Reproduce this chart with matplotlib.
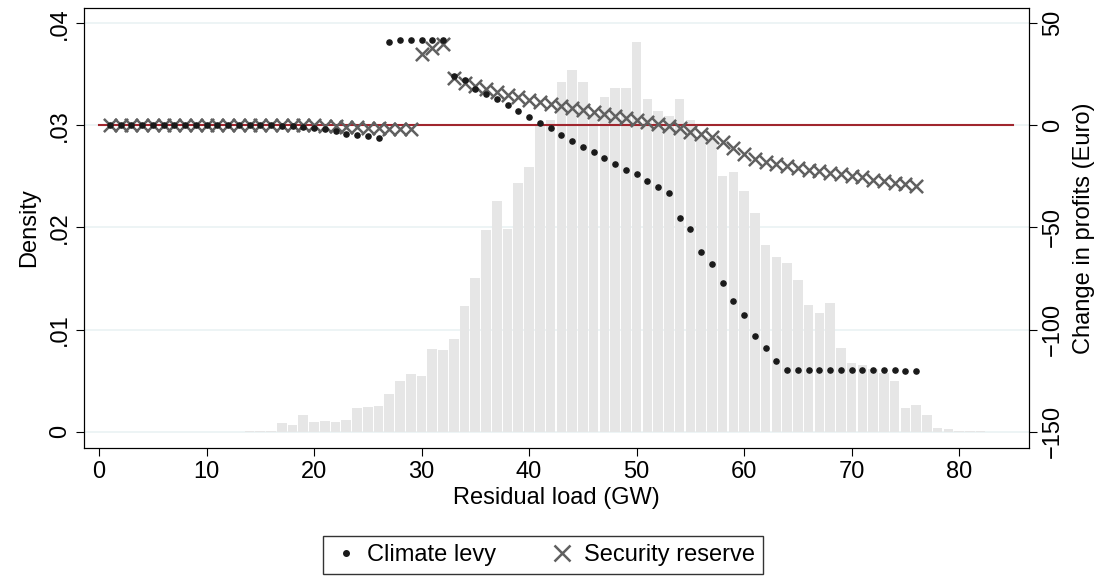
import numpy as np
import matplotlib.pyplot as plt
from matplotlib.lines import Line2D

plt.rcParams['font.family'] = ['Liberation Sans', 'DejaVu Sans']

# histogram of residual load (bin centres in GW, density)
bin_centres = list(range(14, 83))
density = [0.0001, 0.0001, 0.0001,
           0.0008, 0.0007, 0.0016, 0.0009, 0.0010, 0.0009, 0.0011, 0.0023, 0.0024, 0.0025,
           0.0037, 0.0050, 0.0056, 0.0055, 0.0081, 0.0080, 0.0091, 0.0123, 0.0151, 0.0198,
           0.0226, 0.0199, 0.0244, 0.0259, 0.0300, 0.0305, 0.0343, 0.0354, 0.0343, 0.0310,
           0.0328, 0.0337, 0.0337, 0.0382, 0.0326, 0.0314, 0.0309, 0.0326, 0.0305, 0.0289,
           0.0289, 0.0250, 0.0254, 0.0236, 0.0214, 0.0183, 0.0171, 0.0165, 0.0149, 0.0124,
           0.0116, 0.0126, 0.0082, 0.0067, 0.0065, 0.0061, 0.0057, 0.0050, 0.0023, 0.0026,
           0.0016, 0.0004, 0.0003, 0.0001, 0.0001, 0.0001]

load = list(range(1, 77))
climate_levy = ([0.0] * 16 + [-0.3, -0.5, -0.8, -1.2, -1.8, -2.5, -4.0, -4.5, -5.4, -6.0] +
                [41, 42, 42, 42, 42, 42,
                 24, 22, 18, 15.5, 13, 10, 7, 4, 1, -1.5, -4.5, -7.5, -10.5, -13, -16, -19,
                 -22, -24, -27, -30, -33, -45.5, -50.5, -62, -68, -77, -86, -93, -103, -109,
                 -115.5, -120, -120, -120, -120, -120, -120, -120, -120, -120, -120, -120,
                 -120.5, -120.5])
security_reserve = ([0.0] * 20 + [-0.3, -0.5, -0.7, -1.0, -1.2, -1.4, -1.6, -1.8, -2.0] +
                    [35, 38, 40,
                     23, 21, 19.5, 18, 16.5, 15, 14, 12.5, 11.5, 10.5, 9.5, 8.5, 7.5, 6.5, 5.5,
                     4.5, 3.5, 2.5, 1.5, 0.5, -0.5, -1.5, -3, -4, -5.5, -8, -11, -14, -16.5,
                     -18, -19, -20, -21, -22, -22.5, -23.5, -24, -25, -25.5, -26.5, -27, -28,
                     -28.5, -29.5])

fig = plt.figure(figsize=(11.13, 5.81), dpi=100)
ax = fig.add_axes([84 / 1113, 1 - 448 / 581, (1029 - 84) / 1113, (448 - 8) / 581])
ax.bar(bin_centres, density, width=0.9, color='#e6e6e6', zorder=1)
ax.set_ylim(-0.0016, 0.0415)
ax.set_xlim(-1.4, 86.5)
ax.set_yticks([0, 0.01, 0.02, 0.03, 0.04])
ax.set_yticklabels(['0', '.01', '.02', '.03', '.04'], rotation=90, va='center')
ax.set_xticks(range(0, 81, 10))
ax.grid(axis='y', color='#eaf2f3', linewidth=1.2, zorder=0)
ax.set_axisbelow(True)
ax.set_xlabel('Residual load (GW)', fontsize=17, labelpad=3)
ax.set_ylabel('Density', fontsize=17, labelpad=6)
ax.tick_params(labelsize=17, length=6)

ax2 = ax.twinx()
ax2.set_ylim(-158, 57.5)
ax2.set_yticks([-150, -100, -50, 0, 50])
ax2.set_yticklabels(['\u2212150', '\u2212100', '\u221250', '0', '50'], rotation=90, va='center')
ax2.tick_params(labelsize=17, length=6)
ax2.set_ylabel('Change in profits (Euro)', fontsize=17, labelpad=6)
ax2.plot([0, 85], [0, 0], color='#a0262e', linewidth=1.5, zorder=2)
ax2.scatter(load, security_reserve, marker='x', s=90, color='#606060', linewidths=1.8, zorder=3)
ax2.scatter(load, climate_levy, marker='o', s=14, color='#1a1a1a', zorder=4)

handles = [Line2D([], [], marker='o', linestyle='', color='#1a1a1a', markersize=4),
           Line2D([], [], marker='x', linestyle='', color='#606060', markersize=12, markeredgewidth=1.8)]
fig.legend(handles, ['Climate levy', 'Security reserve'], loc='center', ncol=2,
           bbox_to_anchor=(0.488, 0.045), fontsize=17, frameon=True, fancybox=False,
           edgecolor='black', handletextpad=0.3, columnspacing=2.2, borderpad=0.35,
           handlelength=1.2, borderaxespad=0.2)

fig.savefig('out.png', dpi=100)
